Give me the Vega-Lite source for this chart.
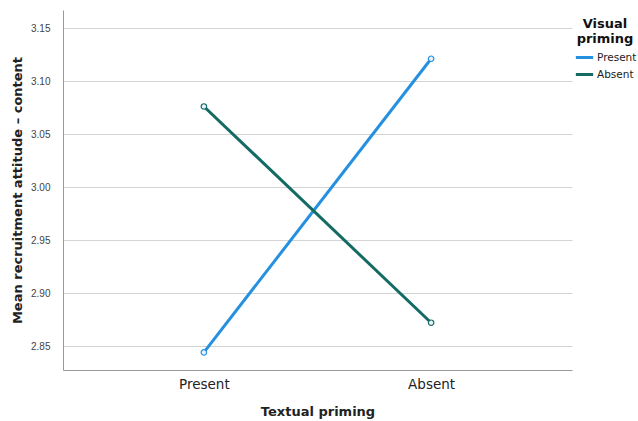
{
  "$schema": "https://vega.github.io/schema/vega-lite/v6.json",
  "width": 509,
  "height": 360,
  "autosize": {"type": "none"},
  "padding": {"left": 63, "top": 10, "right": 66, "bottom": 51},
  "background": "white",
  "config": {
    "font": "DejaVu Sans",
    "view": {"stroke": null}
  },
  "data": {
    "values": [
      {"textual": "Present", "visual": "Present", "mean": 2.844},
      {"textual": "Absent", "visual": "Present", "mean": 3.121},
      {"textual": "Present", "visual": "Absent", "mean": 3.076},
      {"textual": "Absent", "visual": "Absent", "mean": 2.872}
    ]
  },
  "encoding": {
    "x": {
      "field": "textual",
      "type": "nominal",
      "sort": ["Present", "Absent"],
      "scale": {"type": "point", "padding": 0.62},
      "axis": {
        "title": "Textual priming",
        "titleFontSize": 13,
        "titleFontWeight": "bold",
        "titleColor": "#222",
        "titlePadding": 15,
        "labelAngle": 0,
        "labelFontSize": 13.5,
        "labelColor": "#222",
        "labelPadding": 7,
        "ticks": false,
        "domainColor": "#999",
        "grid": false
      }
    },
    "y": {
      "field": "mean",
      "type": "quantitative",
      "scale": {"domain": [2.8274, 3.167], "nice": false, "zero": false},
      "axis": {
        "title": "Mean recruitment attitude – content",
        "titleFontSize": 13,
        "titleFontWeight": "bold",
        "titleColor": "#222",
        "titlePadding": 6,
        "values": [2.85, 2.9, 2.95, 3.0, 3.05, 3.1, 3.15],
        "format": ".2f",
        "labelFont": "Liberation Sans Narrow, Liberation Sans",
        "labelFontSize": 10,
        "labelColor": "#444",
        "labelPadding": 13,
        "ticks": false,
        "domainColor": "#999",
        "grid": true,
        "gridColor": "#d4d4d4"
      }
    },
    "color": {
      "field": "visual",
      "type": "nominal",
      "sort": ["Present", "Absent"],
      "scale": {"domain": ["Present", "Absent"], "range": ["#2590e0", "#146b64"]},
      "legend": {
        "title": ["Visual", "priming"],
        "orient": "none",
        "legendX": 511,
        "legendY": 8,
        "titleFontSize": 13,
        "titleFontWeight": "bold",
        "titleColor": "#111",
        "titleAlign": "center",
        "titleAnchor": "middle",
        "titlePadding": 1,
        "labelFontSize": 10.5,
        "labelColor": "#222",
        "labelOffset": 2,
        "symbolType": "stroke",
        "symbolStrokeWidth": 3,
        "symbolSize": 300,
        "rowPadding": 0,
        "padding": 0
      }
    }
  },
  "layer": [
    {"mark": {"type": "line", "strokeWidth": 3}},
    {"mark": {"type": "point", "filled": true, "fill": "#e8f2f8", "size": 30, "strokeWidth": 1.2, "opacity": 1}, "encoding": {"stroke": {"field": "visual", "type": "nominal", "scale": {"domain": ["Present", "Absent"], "range": ["#2590e0", "#146b64"]}, "legend": null}}}
  ]
}
